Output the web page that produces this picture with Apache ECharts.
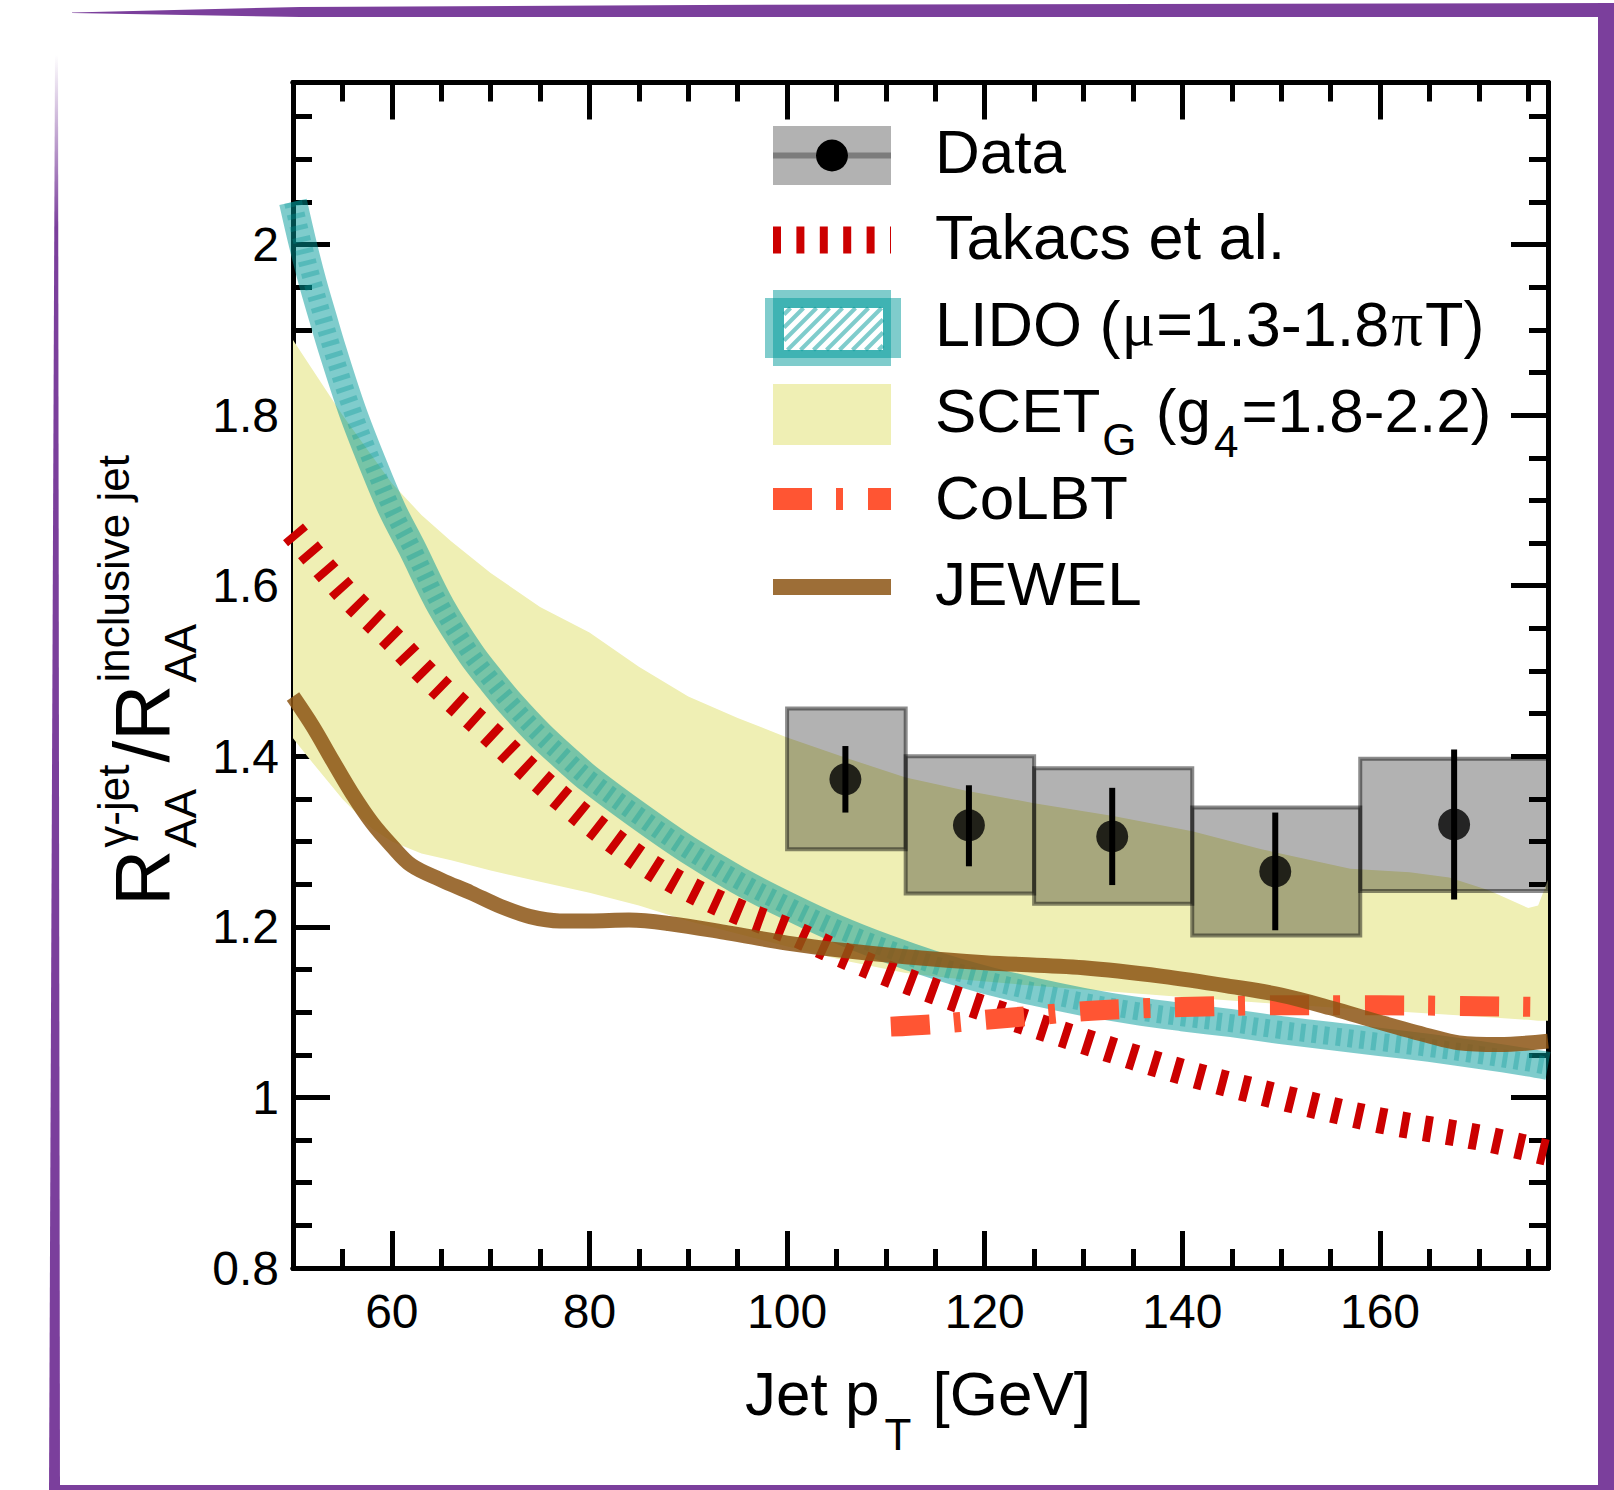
<!DOCTYPE html>
<html>
<head>
<meta charset="utf-8">
<script src="https://cdn.jsdelivr.net/npm/echarts@6/dist/echarts.min.js"></script>
<style>
  html, body { margin: 0; padding: 0; background: #fff; }
  #chart { width: 1614px; height: 1490px; }
</style>
</head>
<body>
<div id="chart"></div>
<script>
// ---- data ----
// measured points (photon-tagged / inclusive ratio)
const dataX  = [105.9, 118.4, 132.9, 149.4, 167.5];
const dataY  = [1.373, 1.319, 1.306, 1.265, 1.320];
const statLo = [1.334, 1.271, 1.249, 1.196, 1.232];
const statHi = [1.412, 1.366, 1.363, 1.334, 1.408];
// systematic boxes
const binLo  = [100, 112, 125, 141, 158];
const binHi  = [112, 125, 141, 158, 178];
const systLo = [1.291, 1.239, 1.227, 1.190, 1.242];
const systHi = [1.456, 1.400, 1.386, 1.340, 1.397];

// Takacs et al.
const takacsX = [50, 53, 56, 60, 63, 66, 70, 74, 78, 82, 86, 90, 95, 100, 105, 110, 115, 120, 130, 140, 150, 160, 170, 177];
const takacsY = [1.663, 1.622, 1.583, 1.538, 1.502, 1.468, 1.426, 1.382, 1.342, 1.305, 1.272, 1.245, 1.218, 1.196, 1.170, 1.146, 1.124, 1.104, 1.066, 1.030, 1.000, 0.973, 0.953, 0.935];

// LIDO (centre of band)
const lidoX = [50, 51, 52, 53, 54, 56, 58, 60, 62, 65, 68, 70, 72, 75, 78, 80, 85, 90, 95, 100, 105, 110, 115, 120, 125, 130, 135, 140, 145, 150, 155, 160, 165, 170, 175, 177];
const lidoY = [2.05, 2.0, 1.955, 1.915, 1.876, 1.805, 1.745, 1.69, 1.645, 1.575, 1.52, 1.49, 1.462, 1.425, 1.393, 1.373, 1.33, 1.29, 1.255, 1.225, 1.198, 1.175, 1.155, 1.138, 1.124, 1.112, 1.102, 1.094, 1.087, 1.079, 1.072, 1.065, 1.058, 1.05, 1.041, 1.037];

// SCET_G band
const scetX    = [50, 52, 55, 58, 60, 63, 66, 70, 75, 80, 85, 90, 95, 100, 106, 112, 118, 125, 133, 141, 148, 157, 163, 167, 171, 175, 176, 177];
const scetHigh = [1.888, 1.853, 1.800, 1.752, 1.720, 1.683, 1.652, 1.615, 1.575, 1.545, 1.505, 1.470, 1.445, 1.422, 1.398, 1.375, 1.360, 1.345, 1.330, 1.312, 1.291, 1.268, 1.264, 1.258, 1.243, 1.222, 1.225, 1.255];
const scetLow  = [1.421, 1.392, 1.350, 1.315, 1.300, 1.286, 1.278, 1.266, 1.253, 1.240, 1.225, 1.207, 1.192, 1.177, 1.160, 1.146, 1.138, 1.131, 1.124, 1.117, 1.111, 1.104, 1.100, 1.097, 1.094, 1.091, 1.090, 1.090];

// CoLBT
const colbtX = [110.5, 115, 120, 125, 130, 135, 140, 150, 160, 170, 177];
const colbtY = [1.083, 1.086, 1.091, 1.096, 1.101, 1.104, 1.106, 1.108, 1.108, 1.107, 1.106];

// JEWEL
const jewelX = [50, 52, 54, 56, 58, 60, 62, 65, 68, 71, 74, 77, 80, 84, 88, 94, 100, 106, 112, 120, 130, 138, 145, 150, 155, 160, 165, 168, 172, 177];
const jewelY = [1.47, 1.435, 1.395, 1.356, 1.322, 1.295, 1.272, 1.255, 1.24, 1.224, 1.212, 1.207, 1.207, 1.208, 1.204, 1.193, 1.181, 1.172, 1.165, 1.158, 1.152, 1.142, 1.13, 1.12, 1.105, 1.088, 1.072, 1.064, 1.062, 1.066];

// ticks
const xMajorTicks = [60, 80, 100, 120, 140, 160];
const xTickLabels = ['60', '80', '100', '120', '140', '160'];
const xMinorTicks = [55, 65, 70, 75, 85, 90, 95, 105, 110, 115, 125, 130, 135, 145, 150, 155, 165, 170, 175];
const yMajorTicks = [0.8, 1, 1.2, 1.4, 1.6, 1.8, 2];
const yTickLabels = ['0.8', '1', '1.2', '1.4', '1.6', '1.8', '2'];
const yMinorTicks = [0.85, 0.9, 0.95, 1.05, 1.1, 1.15, 1.25, 1.3, 1.35, 1.45, 1.5, 1.55, 1.65, 1.7, 1.75, 1.85, 1.9, 1.95, 2.05, 2.1, 2.15];

const X_MIN = 50, X_MAX = 177, Y_MIN = 0.8, Y_MAX = 2.19;

// ---- styling ----
const FONT = '"Liberation Sans", Arial, Helvetica, sans-serif';
const SERIF = '"Liberation Serif", "Times New Roman", serif';
const PURPLE = '#7b3f9c';
const TEAL = 'rgba(0,153,153,0.5)';
const JEWEL_C = 'rgba(140,85,20,0.85)';

const measureCtx = document.createElement('canvas').getContext('2d');
function textW(s, size, fam) {
  measureCtx.font = size + 'px ' + (fam || FONT);
  return measureCtx.measureText(s).width;
}

// lay out a run of text pieces (main / sub / sup) from a baseline
function textRun(pieces, x0, base) {
  const out = [];
  let cursor = x0, start = x0;
  pieces.forEach(p => {
    const fam = p.f || FONT;
    const x = p.stack ? start : cursor + (p.gap || 0);
    start = x;
    const w = textW(p.t, p.s, fam);
    cursor = p.stack ? Math.max(cursor, x + w) : x + w;
    const by = base + (p.dy || 0);
    out.push({
      type: 'text', x: x, y: by - 0.35 * p.s, silent: true,
      style: { text: p.t, font: p.s + 'px ' + fam, fill: '#000', align: 'left', verticalAlign: 'middle', textAlign: 'left', textVerticalAlign: 'middle' }
    });
  });
  return out;
}

function xAx(pos, ticks, len, withLabels) {
  return {
    type: 'value', min: X_MIN, max: X_MAX, position: pos,
    axisLine: { show: true, onZero: false, lineStyle: { color: '#000', width: 5 } },
    axisTick: { show: true, inside: true, length: len, customValues: ticks, lineStyle: { color: '#000', width: 5 } },
    axisLabel: withLabels ? {
      show: true, customValues: ticks, margin: 19, fontSize: 48, color: '#000', fontFamily: FONT,
      formatter: v => xTickLabels[xMajorTicks.indexOf(v)] || String(v)
    } : { show: false },
    splitLine: { show: false }
  };
}
function yAx(pos, ticks, len, withLabels) {
  return {
    type: 'value', min: Y_MIN, max: Y_MAX, position: pos,
    axisLine: { show: true, onZero: false, lineStyle: { color: '#000', width: 5 } },
    axisTick: { show: true, inside: true, length: len, customValues: ticks, lineStyle: { color: '#000', width: 5 } },
    axisLabel: withLabels ? {
      show: true, customValues: ticks, margin: 14, fontSize: 48, color: '#000', fontFamily: FONT,
      padding: [12, 0, 0, 0],
      formatter: v => yTickLabels[yMajorTicks.indexOf(v)] || String(v)
    } : { show: false },
    splitLine: { show: false }
  };
}

function lineSeries(xs, ys, style, z) {
  return {
    type: 'line', xAxisIndex: 0, yAxisIndex: 0,
    data: xs.map((x, i) => [x, ys[i]]),
    showSymbol: false, symbol: 'none', smooth: 0.35, z: z, silent: true,
    lineStyle: Object.assign({ cap: 'butt', join: 'round' }, style)
  };
}

// ---- legend glyphs ----
const LX0 = 773, LX1 = 891, TX = 935;
function hatch(x0, y0, x1, y1, step) {
  const els = [];
  for (let c = x0 + y0 + step / 2; c < x1 + y1; c += step) {
    // line x + y = c clipped to the rect
    let ax = c - y1, ay = y1;
    if (ax < x0) { ax = x0; ay = c - x0; }
    let bx = c - y0, by = y0;
    if (bx > x1) { bx = x1; by = c - x1; }
    if (ax >= bx) continue;
    els.push({ type: 'line', silent: true, shape: { x1: ax, y1: ay, x2: bx, y2: by }, style: { stroke: TEAL, lineWidth: 4 } });
  }
  return els;
}

const legendEls = [
  // Data
  { type: 'rect', shape: { x: LX0, y: 126, width: LX1 - LX0, height: 59 }, style: { fill: 'rgba(0,0,0,0.3)' } },
  { type: 'line', shape: { x1: LX0, y1: 155.5, x2: LX1, y2: 155.5 }, style: { stroke: 'rgba(0,0,0,0.3)', lineWidth: 6 } },
  { type: 'circle', shape: { cx: 832, cy: 155.5, r: 16 }, style: { fill: '#000' } },
  // Takacs
  { type: 'line', shape: { x1: LX0, y1: 240, x2: LX1, y2: 240 }, style: { stroke: '#cc0000', lineWidth: 27, lineDash: [8, 15.4] } },
  // LIDO
  { type: 'rect', shape: { x: LX0, y: 290, width: LX1 - LX0, height: 76 }, style: { fill: TEAL } },
  { type: 'rect', shape: { x: 765, y: 298, width: 136, height: 60 }, style: { fill: TEAL } },
  { type: 'rect', shape: { x: 784, y: 308, width: 99, height: 42 }, style: { fill: '#fff' } }
].concat(hatch(784, 308, 883, 350, 13)).concat([
  // SCET
  { type: 'rect', shape: { x: LX0, y: 384, width: LX1 - LX0, height: 61 }, style: { fill: '#efefb4' } },
  // CoLBT
  { type: 'line', shape: { x1: LX0, y1: 499, x2: LX1, y2: 499 }, style: { stroke: '#ff5533', lineWidth: 22, lineDash: [39, 24, 7, 25] } },
  // JEWEL
  { type: 'line', shape: { x1: LX0, y1: 587, x2: LX1, y2: 587 }, style: { stroke: JEWEL_C, lineWidth: 16 } }
]);

const legendText = []
  .concat(textRun([{ t: 'Data', s: 62 }], TX, 173))
  .concat(textRun([{ t: 'Takacs et al.', s: 63 }], TX, 259.5))
  .concat(textRun([
    { t: 'LIDO (', s: 63 }, { t: 'μ', s: 63, f: SERIF, gap: 1 }, { t: '=1.3-1.8', s: 63, gap: 1 },
    { t: 'π', s: 63, f: SERIF, gap: 2 }, { t: 'T)', s: 63, gap: 2 }
  ], TX, 346))
  .concat(textRun([
    { t: 'SCET', s: 62 }, { t: 'G', s: 44, dy: 22, gap: 2 }, { t: ' (g', s: 62, gap: 2 },
    { t: '4', s: 44, dy: 24, gap: 3 }, { t: '=1.8-2.2)', s: 62, gap: 3 }
  ], TX, 432.5))
  .concat(textRun([{ t: 'CoLBT', s: 62 }], TX, 519))
  .concat(textRun([{ t: 'JEWEL', s: 62 }], TX, 605.5));

// axis titles
const xTitle = textRun([
  { t: 'Jet p', s: 62 }, { t: 'T', s: 44, dy: 35, gap: 5 }, { t: ' [GeV]', s: 62, gap: 4 }
], 745, 1415);

const yTitle = {
  type: 'group', x: 169, y: 906, rotation: Math.PI / 2, silent: true,
  children: textRun([
    { t: 'R', s: 78 },
    { t: 'γ-jet', s: 44, dy: -40, gap: 2 },
    { t: 'AA', s: 44, dy: 27, stack: true },
    { t: '/R', s: 78, gap: 2 },
    { t: 'inclusive jet', s: 44, dy: -40, gap: 2 },
    { t: 'AA', s: 44, dy: 27, stack: true }
  ], 0, 0)
};

// decorative frame
const frameEls = [
  { type: 'polygon', shape: { points: [[72, 12.5], [300, 7], [700, 5], [1614, 3], [1614, 17], [700, 17], [300, 17], [72, 13]] }, style: { fill: PURPLE } },
  { type: 'rect', shape: { x: 1598, y: 3, width: 16, height: 1487 }, style: { fill: PURPLE } },
  {
    type: 'polygon', shape: { points: [[55, 55], [58, 55], [60, 1490], [49, 1490]] },
    style: { fill: new echarts.graphic.LinearGradient(0, 0, 0, 1, [
      { offset: 0, color: 'rgba(123,63,156,0)' },
      { offset: 0.12, color: PURPLE },
      { offset: 1, color: PURPLE }
    ]) }
  },
  { type: 'rect', shape: { x: 49, y: 1485, width: 1565, height: 5 }, style: { fill: PURPLE } }
];

const chart = echarts.init(document.getElementById('chart'), null, { renderer: 'svg', width: 1614, height: 1490 });

chart.setOption({
  animation: false,
  backgroundColor: '#fff',
  grid: { left: 293, right: 66, top: 82.5, bottom: 222, containLabel: false },
  xAxis: [
    xAx('bottom', xMajorTicks, 37, true),
    xAx('bottom', xMinorTicks, 19, false),
    xAx('top', xMajorTicks, 37, false),
    xAx('top', xMinorTicks, 19, false)
  ],
  yAxis: [
    yAx('left', yMajorTicks, 37, true),
    yAx('left', yMinorTicks, 19, false),
    yAx('right', yMajorTicks, 37, false),
    yAx('right', yMinorTicks, 19, false)
  ],
  series: [
    {
      // SCET_G band
      type: 'custom', xAxisIndex: 0, yAxisIndex: 0, z: 1, clip: true, silent: true,
      data: [[scetX[0], scetLow[0]]],
      renderItem: function (params, api) {
        const pts = [];
        for (let i = 0; i < scetX.length; i++) pts.push(api.coord([scetX[i], scetHigh[i]]));
        for (let i = scetX.length - 1; i >= 0; i--) pts.push(api.coord([scetX[i], scetLow[i]]));
        return { type: 'polygon', shape: { points: pts }, style: { fill: '#efefb4' } };
      }
    },
    {
      // systematic boxes
      type: 'custom', xAxisIndex: 0, yAxisIndex: 0, z: 2, clip: true, silent: true,
      data: binLo.map((lo, i) => [lo, binHi[i], systLo[i], systHi[i]]),
      encode: { x: [0, 1], y: [2, 3] },
      renderItem: function (params, api) {
        const p0 = api.coord([api.value(0), api.value(3)]);
        const p1 = api.coord([api.value(1), api.value(2)]);
        const cs = params.coordSys;
        const right = Math.min(p1[0], cs.x + cs.width);
        return {
          type: 'rect',
          shape: { x: p0[0], y: p0[1], width: right - p0[0], height: p1[1] - p0[1] },
          style: { fill: 'rgba(0,0,0,0.3)', stroke: 'rgba(0,0,0,0.45)', lineWidth: 4 }
        };
      }
    },
    lineSeries(lidoX, lidoY, { color: TEAL, width: 28 }, 3),
    lineSeries(lidoX, lidoY, { color: 'rgba(0,150,150,0.32)', width: 18, type: [5, 7] }, 3),
    lineSeries(takacsX, takacsY, { color: '#cc0000', width: 26, type: [8, 15.4] }, 4),
    lineSeries(colbtX, colbtY, { color: '#ff5533', width: 20, type: [39, 24, 7, 25] }, 5),
    lineSeries(jewelX, jewelY, { color: JEWEL_C, width: 15 }, 6),
    {
      // statistical error bars
      type: 'custom', xAxisIndex: 0, yAxisIndex: 0, z: 7, silent: true,
      data: dataX.map((x, i) => [x, statLo[i], statHi[i]]),
      encode: { x: 0, y: [1, 2] },
      renderItem: function (params, api) {
        const a = api.coord([api.value(0), api.value(1)]);
        const b = api.coord([api.value(0), api.value(2)]);
        return { type: 'line', shape: { x1: a[0], y1: a[1], x2: b[0], y2: b[1] }, style: { stroke: '#000', lineWidth: 6 } };
      }
    },
    {
      type: 'scatter', xAxisIndex: 0, yAxisIndex: 0, z: 8, silent: true,
      data: dataX.map((x, i) => [x, dataY[i]]),
      symbol: 'circle', symbolSize: 32,
      itemStyle: { color: '#000' }
    }
  ],
  graphic: frameEls.concat(legendEls, legendText, xTitle, [yTitle])
});
</script>
</body>
</html>
